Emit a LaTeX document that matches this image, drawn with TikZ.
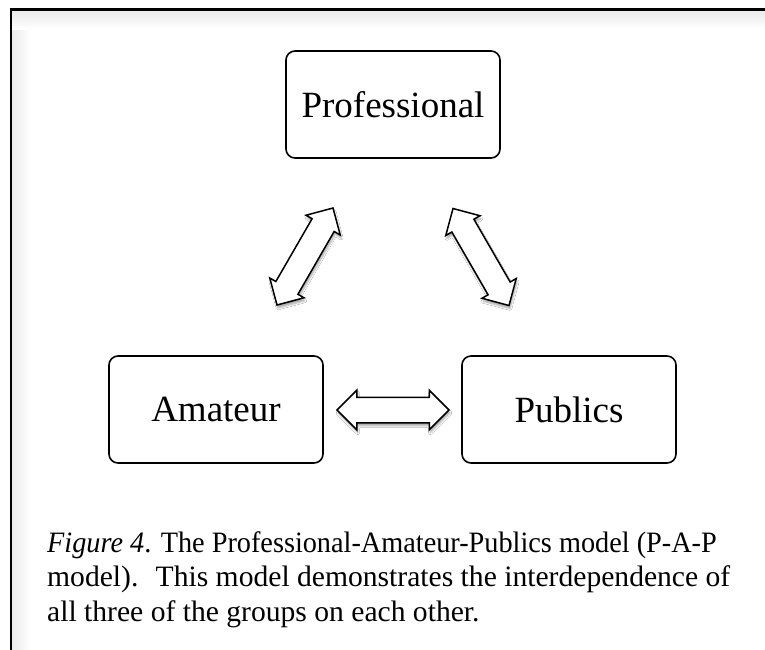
\documentclass[tikz,border=0pt]{standalone}
\usepackage{fontspec}
\setmainfont{Liberation Serif}
\usetikzlibrary{shapes.arrows,shadows.blur}
\begin{document}
\begin{tikzpicture}[x=1pt,y=-1pt,
  group/.style={draw, line width=1.6pt, rounded corners=9pt, fill=white,
    minimum width=214pt, minimum height=107pt, inner sep=0pt,
    font=\fontsize{37}{40}\selectfont},
  link/.style={double arrow, draw, fill=white, line width=1.5pt,
    minimum height=112pt, inner xsep=0pt, inner ysep=12pt,
    text width=0pt, text height=0pt, text depth=0pt,
    double arrow head extend=7pt,
    blur shadow={shadow xshift=1pt, shadow yshift=-3pt, shadow blur steps=6, shadow opacity=35}},
  capline/.style={anchor=base west, inner sep=0pt, font=\fontsize{29.6}{34.5}\selectfont}]
  \useasboundingbox (0,0) rectangle (765,649);
  % soft inner shading along the frame
  \shade[left color=black!8, right color=white] (12,11) rectangle (30,649);
  \shade[top color=black!8, bottom color=white] (12,11) rectangle (765,29);
  \fill[white] (30,29) rectangle (765,649);
  % frame
  \draw[line width=2.2pt] (11,655) -- (11,9.5) -- (770,9.5);

  % the three groups
  \node[group] (prof) at (393,104.5) {Professional};
  \node[group] (amat) at (216,409.5) {Amateur};
  \node[group] (publ) at (569,409.5) {Publics};

  % two-way links between the groups
  \node[link, rotate=60]  (pa) at (305,256.5) {};
  \node[link, rotate=-60] (pp) at (481,257) {};
  \node[link]             (ap) at (393,410) {};

  % caption
  \node[capline, xscale=0.955] (cap1) at (47,552) {\textit{Figure 4}. The Professional-Amateur-Publics model (P-A-P};
  \node[capline] (cap2) at (47,586.5) {model).~ This model demonstrates the interdependence of};
  \node[capline] (cap3) at (47,621) {all three of the groups on each other.};
\end{tikzpicture}
\end{document}
